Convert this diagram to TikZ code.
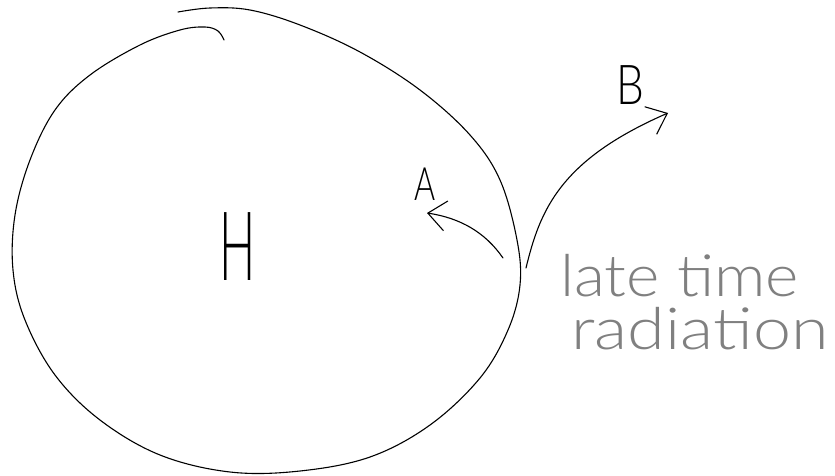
\documentclass[tikz,border=0pt]{standalone}
\usepackage{fontspec}
\setmainfont{Lato}[UprightFont=* Light]
\usetikzlibrary{arrows.meta}

\definecolor{inkgray}{RGB}{128,128,128}

\tikzset{
  pen/.style={line width=1.1pt, line cap=round, line join=round},
  ray/.style={pen, -{Straight Barb[length=18pt,width=30pt]}},
  letter/.style={inner sep=0pt},
  note/.style={inner sep=0pt, text=inkgray, align=left, anchor=north west,
    font=\fontsize{58}{53}\selectfont, xscale=1.1},
}

\begin{document}
\begin{tikzpicture}[x=1pt,y=-1pt]
  \useasboundingbox (0,0) rectangle (835,476);
  % the horizon, drawn by hand
  \draw[pen] plot[smooth, tension=0.6] coordinates {
    (224,40) (218,31) (205,27) (180,30) (140,45) (90,75) (55,110) (30,160)
    (15,215) (13,270) (25,320) (55,375) (100,420) (160,455) (230,472)
    (300,471) (370,457) (430,425) (480,378) (508,330) (520,285) (517,240)
    (500,180) (470,135) (420,90) (360,52) (300,25) (250,10) (210,8) (178,12)};
  \node[letter, font=\fontsize{96}{96}\selectfont, xscale=0.5] (H) at (238,247) {H};
  \node[letter, font=\fontsize{46}{46}\selectfont, xscale=0.7] (A) at (425,184) {A};
  \node[letter, font=\fontsize{55}{55}\selectfont, xscale=0.8] (B) at (630,85) {B};
  \coordinate (emitA) at (503,258);
  \coordinate (emitB) at (526,268);
  \coordinate (tipA) at (427,213);
  \coordinate (tipB) at (668,113);
  \draw[ray] (emitA) .. controls (485,232) and (460,218) .. (tipA);
  \draw[ray] (emitB) .. controls (540,210) and (560,160) .. (tipB);
  \node[note] (late) at (560,254)
    {late time\\\hspace*{10pt}\scalebox{1.07}[1]{radiation}};
\end{tikzpicture}
\end{document}
